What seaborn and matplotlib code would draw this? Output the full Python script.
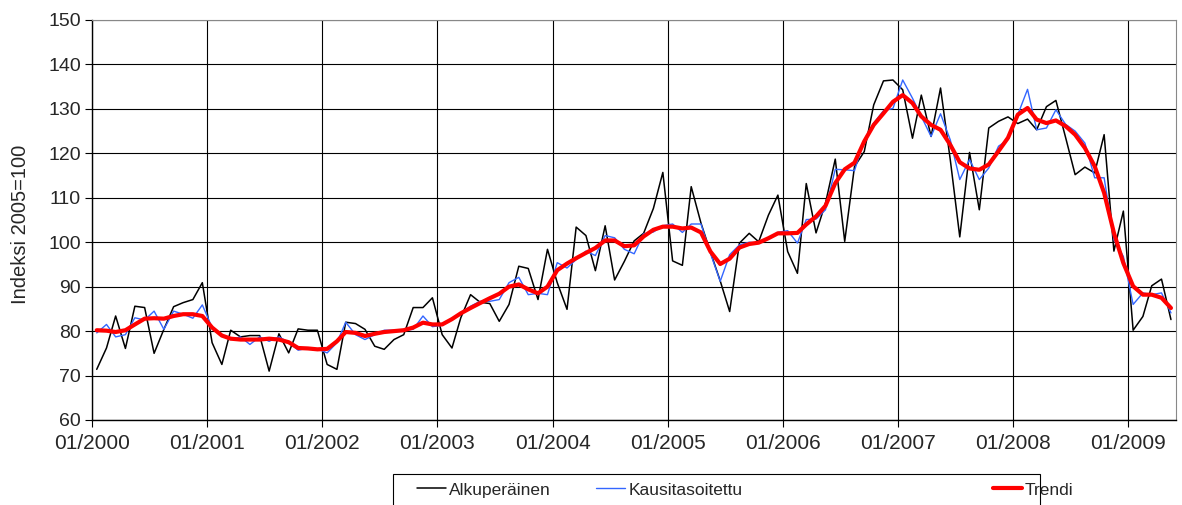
"""
Teollisuuden indeksi 2000-2009: alkuperäinen, kausitasoitettu ja trendi.
"""
import numpy as np
import pandas as pd
import matplotlib
matplotlib.use("Agg")
import matplotlib.pyplot as plt
import matplotlib.dates as mdates
from matplotlib.patches import Rectangle
import seaborn as sns

# kuukaudet 01/2000 - 05/2009
months = pd.date_range("2000-01-01", "2009-05-01", freq="MS")

alkuperainen = [
    71.4, 76.2, 83.4, 76.1, 85.6, 85.3, 75.0, 80.4, 85.5, 86.4, 87.1, 90.9,
    77.4, 72.5, 80.2, 78.7, 79.0, 79.0, 71.0, 79.4, 75.1, 80.5, 80.2, 80.2,
    72.5, 71.4, 82.0, 81.7, 80.4, 76.6, 75.9, 78.1, 79.2, 85.3, 85.3, 87.5,
    79.2, 76.2, 83.0, 88.2, 86.5, 86.2, 82.2, 86.0, 94.6, 94.1, 87.1, 98.4,
    90.9, 84.9, 103.4, 101.5, 93.6, 103.7, 91.5, 95.7, 100.3, 102.0, 107.6, 115.7,
    95.8, 94.8, 112.5, 104.3, 97.8, 91.3, 84.4, 99.8, 102.0, 100.1, 106.1, 110.6,
    97.9, 93.0, 113.2, 102.1, 108.8, 118.7, 100.2, 117.0, 120.4, 130.9, 136.3, 136.5,
    134.3, 123.4, 133.1, 123.8, 134.7, 118.5, 101.2, 120.2, 107.3, 125.7, 127.2, 128.2,
    126.7, 127.7, 125.3, 130.5, 131.9, 123.5, 115.2, 116.9, 115.6, 124.2, 98.0, 107.0,
    80.2, 83.3, 90.2, 91.7, 82.6,
]

kausitasoitettu = [
    79.6, 81.5, 78.7, 79.2, 83.0, 82.5, 84.5, 80.4, 84.5, 83.8, 82.9, 85.9,
    80.8, 78.9, 78.1, 78.7, 77.0, 78.7, 77.7, 78.7, 77.5, 75.7, 76.2, 76.0,
    75.1, 77.4, 82.0, 79.2, 78.1, 79.2, 80.2, 80.2, 80.2, 80.4, 83.4, 81.0,
    81.3, 82.6, 84.1, 85.6, 86.7, 86.7, 87.1, 90.9, 92.1, 88.2, 88.5, 88.2,
    95.4, 94.2, 96.1, 98.0, 97.0, 101.5, 101.0, 98.4, 97.4, 101.9, 102.3, 103.7,
    104.1, 102.2, 104.1, 104.1, 97.5, 91.2, 97.2, 99.4, 100.0, 99.8, 100.9, 102.2,
    102.6, 99.8, 105.1, 105.2, 107.3, 116.4, 116.3, 116.1, 123.0, 126.8, 129.6, 130.1,
    136.5, 132.4, 128.3, 123.8, 128.9, 123.0, 114.1, 118.6, 114.1, 116.7, 121.6, 123.1,
    128.7, 134.4, 125.3, 125.7, 129.8, 126.5, 125.0, 122.3, 114.5, 114.5, 100.6, 96.8,
    86.0, 88.6, 88.2, 88.6, 84.1,
]

trendi = [
    80.2, 80.1, 79.8, 80.2, 81.5, 82.8, 82.9, 82.8, 83.4, 83.8, 83.8, 83.4,
    80.8, 79.0, 78.3, 78.1, 78.1, 78.1, 78.3, 78.1, 77.5, 76.2, 76.1, 75.9,
    76.0, 77.7, 79.8, 79.6, 78.9, 79.4, 79.8, 80.0, 80.2, 80.8, 81.9, 81.5,
    81.5, 82.7, 84.0, 85.2, 86.3, 87.4, 88.4, 90.0, 90.5, 89.4, 88.5, 90.0,
    93.7, 95.2, 96.4, 97.6, 98.7, 100.4, 100.4, 99.1, 99.3, 101.3, 102.8, 103.5,
    103.5, 103.1, 103.3, 102.2, 97.9, 95.1, 96.3, 98.8, 99.6, 99.9, 100.9, 102.0,
    102.0, 102.1, 104.0, 105.8, 108.2, 113.3, 116.4, 117.9, 122.7, 126.4, 129.0, 131.6,
    133.1, 131.3, 128.3, 126.4, 125.3, 121.9, 118.0, 116.6, 116.3, 117.5, 120.5, 123.5,
    128.7, 130.2, 127.6, 126.8, 127.4, 126.1, 124.2, 121.2, 117.1, 111.1, 102.1, 95.3,
    90.1, 88.2, 88.2, 87.5, 85.2,
]

series_names = ["Alkuperäinen", "Kausitasoitettu", "Trendi"]
colors = ["#000000", "#3366ff", "#ff0000"]
widths = [1.1, 1.0, 3.0]

sns.set_theme(style="white")
plt.rcParams["font.family"] = ["Liberation Sans", "DejaVu Sans"]
plt.rcParams["font.size"] = 13

df = pd.DataFrame({
    "kk": months + pd.Timedelta(days=15),
    series_names[0]: alkuperainen,
    series_names[1]: kausitasoitettu,
    series_names[2]: trendi,
})

fig = plt.figure(figsize=(11.82, 5.05), dpi=100)
ax = fig.add_axes([92 / 1182, 1 - 420 / 505, (1176 - 92) / 1182, 400 / 505])

for name, c, lw in zip(series_names, colors, widths):
    sns.lineplot(data=df, x="kk", y=name, color=c, linewidth=lw, label=name, ax=ax)

ax.set_xlim(pd.Timestamp("2000-01-01"), pd.Timestamp("2009-06-01"))
ax.set_ylim(60, 150)
ax.set_yticks(np.arange(60, 151, 10))
ax.xaxis.set_major_locator(mdates.YearLocator())
ax.xaxis.set_major_formatter(mdates.DateFormatter("%m/%Y"))
ax.grid(True, color="#000000", linewidth=0.8)
ax.set_axisbelow(True)
ax.set_xlabel("")
ax.set_ylabel("Indeksi 2005=100", fontsize=14.5)
ax.yaxis.set_label_coords(-0.057, 0.49)
ax.tick_params(axis="both", length=5, width=0.8, color="black",
               direction="out", left=True, bottom=True)
ax.tick_params(axis="y", labelsize=14, pad=3)
ax.tick_params(axis="x", labelsize=15, pad=5)
for side in ["left", "bottom"]:
    ax.spines[side].set_color("black")
    ax.spines[side].set_linewidth(1.0)
for side in ["top", "right"]:
    ax.spines[side].set_color("#888888")
    ax.spines[side].set_linewidth(0.8)

# legendin kehys jatkuu kuvan alareunan yli kuten alkuperäisessä
handles, labels = ax.get_legend_handles_labels()
ax.get_legend().remove()
fig.patches.append(Rectangle((393 / 1182, -0.05), 647 / 1182, 0.05 + 1 - 474 / 505,
                             transform=fig.transFigure, facecolor="white",
                             edgecolor="black", linewidth=0.8))
leg_kw = dict(loc="center left", frameon=False, fontsize=12.5, handlelength=1.65,
              handletextpad=0.2, borderpad=0, borderaxespad=0, columnspacing=2.6)
leg1 = fig.legend(handles[:2], labels[:2], ncol=2,
                  bbox_to_anchor=(417 / 1182, 1 - 490 / 505), **leg_kw)
leg2 = fig.legend(handles[2:], labels[2:], ncol=1,
                  bbox_to_anchor=(993 / 1182, 1 - 490 / 505), **leg_kw)

fig.savefig("out.png", dpi=100)
